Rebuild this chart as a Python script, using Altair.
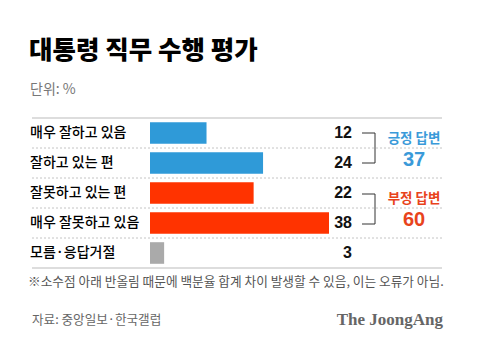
import altair as alt
import pandas as pd

categories = ["매우 잘하고 있음", "잘하고 있는 편", "잘못하고 있는 편", "매우 잘못하고 있음", "모름·응답거절"]
values = [12, 24, 22, 38, 3]
groups = ["긍정", "긍정", "부정", "부정", "기타"]
group_names = ["긍정", "부정", "기타"]
group_colors = ["#2f9ad8", "#ff3300", "#aaaaaa"]

summary_labels = ["긍정 답변", "부정 답변"]
summary_totals = [37, 60]
summary_colors = ["#3a9ad9", "#e8431c"]

title_text = "대통령 직무 수행 평가"
unit_text = "단위: %"
note_text = "※소수점 아래 반올림 때문에 백분율 합계 차이 발생할 수 있음, 이는 오류가 아님."
source_text = "자료: 중앙일보·한국갤럽"
brand_text = "The JoongAng"

KR = "Noto Sans CJK KR"
df = pd.DataFrame({"cat": categories, "val": values, "grp": groups})

yscale = alt.Scale(domain=categories, range=[118, 268], paddingInner=0.28, paddingOuter=0.14)
Y = alt.Y("cat:N", scale=yscale, axis=None)

base = alt.Chart(df)

bars = base.mark_bar().encode(
    x=alt.X("val:Q", scale=alt.Scale(domain=[0, 38], range=[150, 329]), axis=None),
    y=Y,
    color=alt.Color("grp:N", scale=alt.Scale(domain=group_names, range=group_colors), legend=None),
)

cat_labels = base.mark_text(align="left", baseline="middle", font=KR, fontSize=14, fontWeight=500,
                            color="#000").encode(
    x=alt.value(30), y=Y, text="cat:N"
)
val_labels = base.mark_text(align="right", baseline="middle", font="Liberation Sans", fontWeight="bold",
                            fontSize=16, color="#111").encode(
    x=alt.value(352), y=Y, text="val:Q"
)

def hline(y, x1, x2, color, dash=None, width=1.0):
    kw = dict(color=color, strokeWidth=width)
    if dash:
        kw["strokeDash"] = dash
    return alt.Chart(pd.DataFrame({"k": [0]})).mark_rule(**kw).encode(
        x=alt.value(x1), x2=alt.value(x2), y=alt.value(y))

def vline(x, y1, y2, color, width=1.0):
    return alt.Chart(pd.DataFrame({"k": [0]})).mark_rule(color=color, strokeWidth=width).encode(
        x=alt.value(x), y=alt.value(y1), y2=alt.value(y2))

def txt(text, x, y, size, color, font=KR, weight="normal", align="left"):
    return alt.Chart(pd.DataFrame({"t": [text]})).mark_text(
        align=align, baseline="middle", font=font, fontSize=size, fontWeight=weight, color=color
    ).encode(x=alt.value(x), y=alt.value(y), text="t:N")

layers = [bars, cat_labels, val_labels]
layers.append(hline(118, 32, 442, "#bbbbbb", width=1.2))
layers.append(hline(268, 32, 442, "#bbbbbb", width=1.2))
for yy in [148, 178, 208, 238]:
    layers.append(hline(yy, 32, 442, "#c4c4c4", dash=[2, 2]))

# brackets
for (top, bot) in [(133, 163), (194, 224)]:
    layers.append(hline(top, 362, 375, "#333333"))
    layers.append(hline(bot, 362, 375, "#333333"))
    layers.append(vline(375, top, bot, "#333333"))

# summaries
layers.append(txt(summary_labels[0], 414, 139, 13.5, summary_colors[0], weight="bold", align="center"))
layers.append(txt(str(summary_totals[0]), 414, 160, 20, summary_colors[0], font="Liberation Sans", weight="bold", align="center"))
layers.append(txt(summary_labels[1], 414, 199, 13.5, summary_colors[1], weight="bold", align="center"))
layers.append(txt(str(summary_totals[1]), 414, 220, 20, summary_colors[1], font="Liberation Sans", weight="bold", align="center"))

layers.append(txt(title_text, 29, 51, 25.5, "#000000", weight=900))
layers.append(txt(unit_text, 30, 90, 14, "#777777"))
layers.append(txt(note_text, 28, 282, 12.7, "#555555"))
layers.append(txt(source_text, 32, 320, 12.6, "#666666"))
layers.append(txt(brand_text, 443, 320, 17, "#666666", font="Liberation Serif", weight="bold", align="right"))

chart = alt.layer(*layers).properties(
    width=480, height=356, autosize=alt.AutoSizeParams(type="none"), padding=0,
    background="white"
).configure_view(stroke=None)

chart.save("out.html", embed_options={"renderer": "svg", "actions": False})
